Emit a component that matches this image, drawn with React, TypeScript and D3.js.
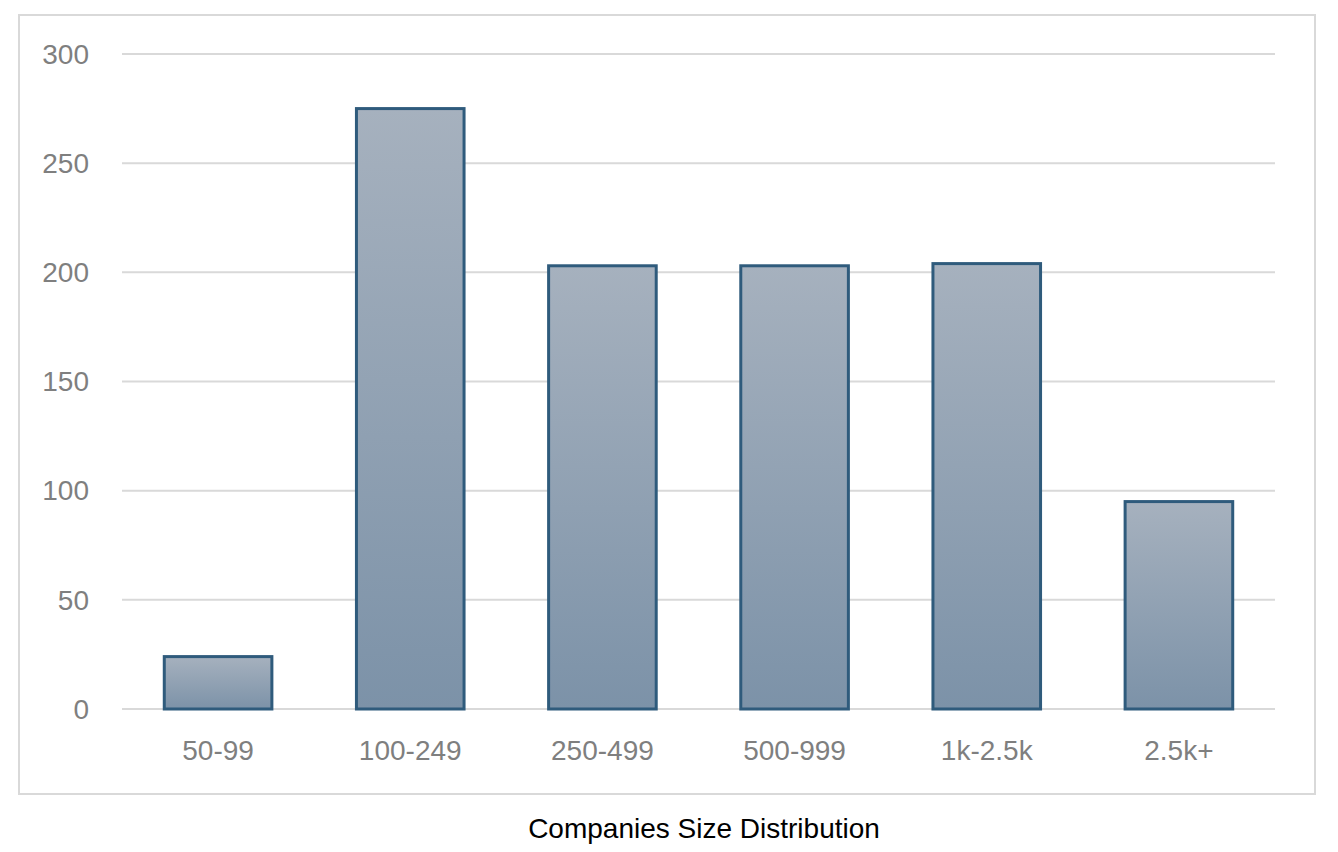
import React, { useEffect, useRef } from "react";
import * as d3 from "d3";

const categories = ["50-99", "100-249", "250-499", "500-999", "1k-2.5k", "2.5k+"];
const counts = [24, 275, 203, 203, 204, 95];
const yTicks = [0, 50, 100, 150, 200, 250, 300];
const chartTitle = "Companies Size Distribution";

function App() {
  const svgRef = useRef<SVGSVGElement>(null);

  useEffect(() => {
    if (!svgRef.current) return;
    const width = 1338;
    const height = 852;
    const font = "'Liberation Sans', Arial, Helvetica, sans-serif";

    const svg = d3.select(svgRef.current);
    svg.selectAll("*").remove();

    const defs = svg.append("defs");
    const grad = defs
      .append("linearGradient")
      .attr("id", "barGrad")
      .attr("x1", 0)
      .attr("y1", 0)
      .attr("x2", 0)
      .attr("y2", 1);
    grad.append("stop").attr("offset", "0%").attr("stop-color", "#a6b1be");
    grad.append("stop").attr("offset", "100%").attr("stop-color", "#7c92a8");

    // outer frame
    svg
      .append("rect")
      .attr("x", 19)
      .attr("y", 15)
      .attr("width", 1296)
      .attr("height", 779)
      .attr("fill", "white")
      .attr("stroke", "#d9d9d9")
      .attr("stroke-width", 2);

    const left = 122;
    const right = 1275;
    const top = 54;
    const bottom = 709;

    const x = d3.scaleBand<string>().domain(categories).range([left, right]).paddingInner(0.44).paddingOuter(0.22);
    const y = d3.scaleLinear().domain([0, 300]).range([bottom, top]);

    svg
      .append("g")
      .selectAll("line")
      .data(yTicks)
      .join("line")
      .attr("x1", left)
      .attr("x2", right)
      .attr("y1", (d) => y(d))
      .attr("y2", (d) => y(d))
      .attr("stroke", "#d9d9d9")
      .attr("stroke-width", 2);

    svg
      .append("g")
      .selectAll("text")
      .data(yTicks)
      .join("text")
      .attr("x", 89)
      .attr("y", (d) => y(d))
      .attr("dy", "0.35em")
      .attr("text-anchor", "end")
      .attr("font-family", font)
      .attr("font-size", 28)
      .attr("fill", "#7f7f7f")
      .text((d) => d);

    svg
      .append("g")
      .selectAll("rect")
      .data(counts)
      .join("rect")
      .attr("x", (_, i) => x(categories[i])!)
      .attr("y", (d) => y(d))
      .attr("width", x.bandwidth())
      .attr("height", (d) => y(0) - y(d))
      .attr("fill", "url(#barGrad)")
      .attr("stroke", "#2f5b7c")
      .attr("stroke-width", 3);

    svg
      .append("g")
      .selectAll("text")
      .data(categories)
      .join("text")
      .attr("x", (d) => x(d)! + x.bandwidth() / 2)
      .attr("y", 750)
      .attr("dy", "0.35em")
      .attr("text-anchor", "middle")
      .attr("font-family", font)
      .attr("font-size", 28)
      .attr("fill", "#7f7f7f")
      .text((d) => d);

    svg
      .append("text")
      .attr("x", 704)
      .attr("y", 828)
      .attr("dy", "0.35em")
      .attr("text-anchor", "middle")
      .attr("font-family", font)
      .attr("font-size", 28)
      .attr("fill", "#000")
      .text(chartTitle);

    svg.attr("width", width).attr("height", height);
  }, []);

  return <svg ref={svgRef} style={{ display: "block", position: "absolute", left: 0, top: 0 }} />;
}

export default App;
